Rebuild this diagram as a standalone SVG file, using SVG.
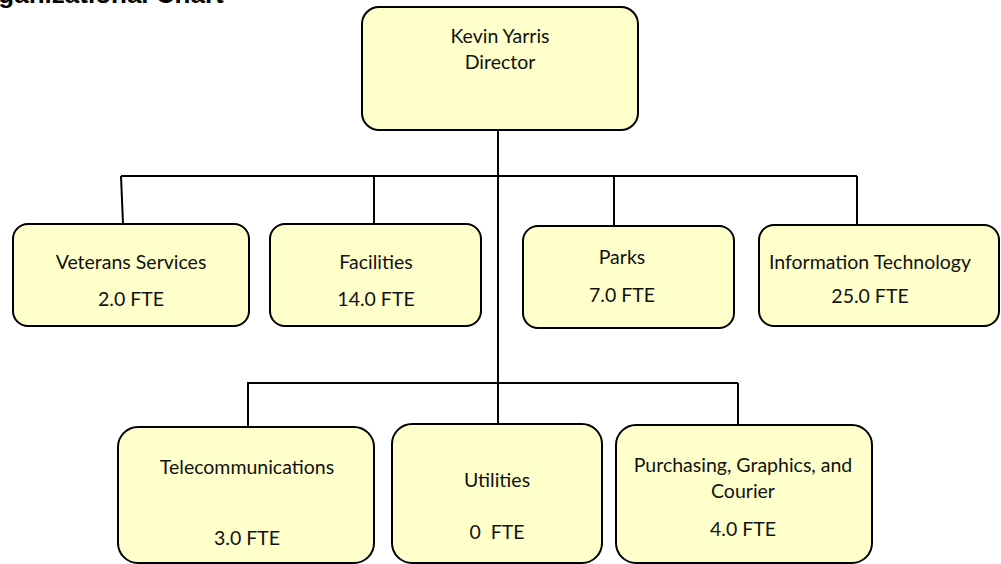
<svg xmlns="http://www.w3.org/2000/svg" width="1001" height="564" viewBox="0 0 1001 564">
  <style>
    .box { fill: #FFFFCC; stroke: #000; stroke-width: 2; }
    .lbl { font-family: Lato, "Open Sans", "Liberation Sans", sans-serif; font-size: 19.5px; fill: #111; text-anchor: middle; white-space: pre; }
    .title { font-family: "Liberation Sans", Arial, sans-serif; font-weight: bold; font-size: 26px; fill: #000; }
    .wire { fill: none; stroke: #000; stroke-width: 2; }
  </style>
  <rect width="1001" height="564" fill="#fff"/>

  <text class="title" x="-32" y="3">Organizational Chart</text>

  <g id="connectors">
    <!-- trunk from the director down to the lower branch -->
    <line class="wire" x1="498" y1="131" x2="498" y2="424"/>
    <!-- upper branch -->
    <line class="wire" x1="121" y1="176" x2="857" y2="176"/>
    <line class="wire" x1="121" y1="176" x2="123" y2="224"/>
    <line class="wire" x1="374" y1="176" x2="374" y2="224"/>
    <line class="wire" x1="614" y1="176" x2="614" y2="226"/>
    <line class="wire" x1="857" y1="176" x2="857" y2="225"/>
    <!-- lower branch -->
    <line class="wire" x1="247" y1="383" x2="738" y2="383"/>
    <line class="wire" x1="248" y1="383" x2="248" y2="427"/>
    <line class="wire" x1="738" y1="383" x2="738" y2="425"/>
  </g>

  <g id="director">
    <rect class="box" x="362" y="7" width="276" height="123" rx="17"/>
    <text class="lbl" x="500" y="43">Kevin Yarris</text>
    <text class="lbl" x="500" y="69">Director</text>
  </g>

  <g id="veterans-services">
    <rect class="box" x="13" y="224" width="236" height="102" rx="15"/>
    <text class="lbl" x="131" y="269">Veterans Services</text>
    <text class="lbl" x="131" y="306">2.0 FTE</text>
  </g>

  <g id="facilities">
    <rect class="box" x="270" y="224" width="211" height="102" rx="15"/>
    <text class="lbl" x="376" y="269">Facilities</text>
    <text class="lbl" x="376" y="306">14.0 FTE</text>
  </g>

  <g id="parks">
    <rect class="box" x="523" y="226" width="211" height="102" rx="15"/>
    <text class="lbl" x="622" y="264">Parks</text>
    <text class="lbl" x="622" y="302">7.0 FTE</text>
  </g>

  <g id="information-technology">
    <rect class="box" x="759" y="225" width="240" height="101" rx="15"/>
    <text class="lbl" x="870" y="269">Information Technology</text>
    <text class="lbl" x="870" y="303">25.0 FTE</text>
  </g>

  <g id="telecommunications">
    <rect class="box" x="118" y="427" width="256" height="136" rx="20"/>
    <text class="lbl" x="247" y="474">Telecommunications</text>
    <text class="lbl" x="247" y="545">3.0 FTE</text>
  </g>

  <g id="utilities">
    <rect class="box" x="392" y="424" width="210" height="139" rx="20"/>
    <text class="lbl" x="497" y="487">Utilities</text>
    <text class="lbl" x="497" y="539" xml:space="preserve">0  FTE</text>
  </g>

  <g id="purchasing-graphics-courier">
    <rect class="box" x="616" y="425" width="256" height="138" rx="20"/>
    <text class="lbl" x="743" y="472">Purchasing, Graphics, and</text>
    <text class="lbl" x="743" y="498">Courier</text>
    <text class="lbl" x="743" y="536">4.0 FTE</text>
  </g>
</svg>
